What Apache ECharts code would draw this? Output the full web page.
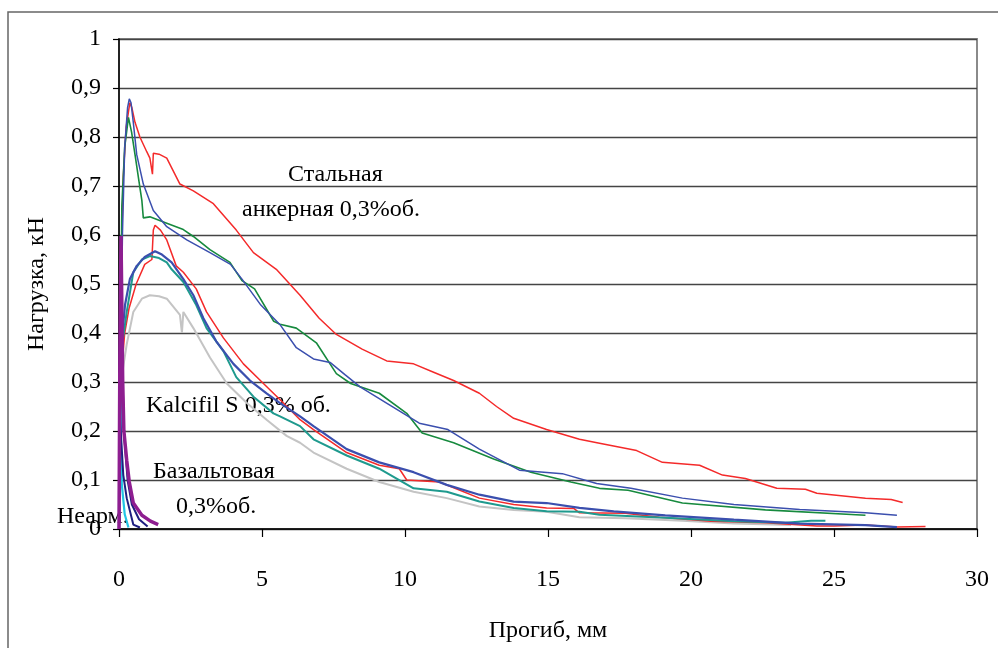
<!DOCTYPE html>
<html>
<head>
<meta charset="utf-8">
<script src="https://cdn.jsdelivr.net/npm/echarts@6/dist/echarts.min.js"></script>
<style>
html,body{margin:0;padding:0;background:#fff;}
#chart{width:998px;height:648px;}
</style>
</head>
<body>
<div id="chart"></div>
<script>
// ---- data (x: прогиб, мм; y: нагрузка, кН) ----
const xTicks = [0, 5, 10, 15, 20, 25, 30];
const yTicks = [0, 0.1, 0.2, 0.3, 0.4, 0.5, 0.6, 0.7, 0.8, 0.9, 1];

const steelRed = [[0,0],[0.03,0.27],[0.08,0.55],[0.15,0.72],[0.25,0.82],[0.38,0.87],[0.45,0.86],[0.56,0.83],[0.73,0.80],[0.97,0.77],[1.08,0.757],[1.17,0.724],[1.2,0.767],[1.4,0.765],[1.67,0.757],[2.13,0.704],[2.6,0.69],[3.3,0.664],[4.1,0.61],[4.7,0.564],[5.5,0.53],[6.33,0.477],[7.0,0.43],[7.6,0.397],[8.5,0.367],[9.36,0.343],[10.3,0.337],[11.0,0.32],[11.7,0.303],[12.6,0.277],[13.2,0.25],[13.8,0.226],[14.95,0.203],[16.1,0.183],[16.8,0.175],[18.1,0.16],[19.0,0.136],[20.3,0.13],[21.1,0.11],[21.9,0.103],[23.0,0.083],[24.0,0.081],[24.4,0.073],[26.1,0.063],[27.0,0.06],[27.4,0.054]];
const steelBlue = [[0,0],[0.05,0.3],[0.12,0.6],[0.2,0.78],[0.3,0.86],[0.36,0.878],[0.42,0.87],[0.5,0.83],[0.62,0.764],[0.85,0.704],[1.2,0.65],[1.67,0.617],[2.37,0.59],[3.18,0.564],[3.9,0.54],[4.3,0.51],[4.96,0.457],[5.63,0.417],[6.2,0.37],[6.8,0.347],[7.38,0.34],[7.9,0.315],[8.43,0.29],[9.47,0.253],[10.5,0.216],[11.5,0.203],[12.6,0.163],[14.0,0.12],[15.5,0.113],[16.7,0.093],[17.9,0.083],[19.7,0.063],[21.5,0.05],[23.8,0.04],[26.1,0.033],[27.2,0.028]];
const steelGreen = [[0,0],[0.05,0.4],[0.1,0.66],[0.2,0.78],[0.33,0.84],[0.44,0.81],[0.56,0.764],[0.73,0.697],[0.8,0.67],[0.85,0.635],[1.08,0.637],[1.67,0.624],[2.25,0.611],[2.6,0.597],[3.18,0.57],[3.88,0.544],[4.3,0.507],[4.74,0.49],[5.41,0.424],[5.63,0.418],[6.2,0.41],[6.9,0.38],[7.6,0.317],[8.1,0.297],[9.1,0.277],[10.06,0.236],[10.6,0.196],[11.7,0.176],[13.1,0.143],[14.4,0.116],[15.8,0.096],[16.8,0.083],[17.8,0.079],[19.7,0.053],[22.6,0.039],[26.1,0.028]];
const kalcRed = [[0,0],[0.05,0.2],[0.1,0.33],[0.2,0.4],[0.35,0.45],[0.6,0.5],[0.9,0.54],[1.15,0.55],[1.2,0.61],[1.26,0.62],[1.45,0.61],[1.67,0.59],[2.0,0.537],[2.25,0.524],[2.7,0.49],[3.06,0.443],[3.65,0.39],[4.35,0.337],[5.05,0.297],[5.75,0.257],[6.33,0.223],[6.8,0.203],[7.96,0.156],[9.1,0.13],[9.8,0.123],[10.06,0.1],[11.2,0.096],[12.6,0.063],[13.8,0.05],[14.95,0.043],[15.9,0.042],[16.1,0.033],[17.7,0.032],[18.9,0.024],[20.7,0.016],[22.6,0.013],[24.4,0.006],[25.0,0.006],[26.1,0.008],[27.2,0.004],[28.2,0.005]];
const kalcBlue = [[0,0],[0.05,0.25],[0.12,0.4],[0.21,0.457],[0.38,0.51],[0.62,0.537],[0.9,0.555],[1.26,0.567],[1.5,0.56],[1.84,0.544],[2.25,0.51],[2.6,0.477],[2.95,0.43],[3.4,0.383],[4.0,0.337],[4.58,0.303],[5.16,0.277],[5.63,0.257],[6.33,0.23],[6.8,0.21],[7.96,0.163],[9.1,0.136],[10.3,0.116],[11.46,0.09],[12.6,0.07],[13.8,0.056],[14.95,0.053],[16.1,0.043],[17.3,0.036],[19.1,0.028],[21.5,0.019],[23.8,0.011],[26.1,0.008],[27.2,0.004]];
const kalcTeal = [[0,0],[0.05,0.2],[0.12,0.38],[0.27,0.443],[0.5,0.524],[0.8,0.55],[1.08,0.557],[1.4,0.553],[1.67,0.544],[1.84,0.53],[2.25,0.504],[2.7,0.457],[3.06,0.41],[3.65,0.363],[4.1,0.31],[4.7,0.27],[5.4,0.236],[5.63,0.23],[6.33,0.21],[6.8,0.183],[7.96,0.15],[9.1,0.123],[10.3,0.083],[11.46,0.076],[12.6,0.056],[13.8,0.043],[14.95,0.036],[16.1,0.035],[16.8,0.029],[19.1,0.023],[21.5,0.016],[23.3,0.013],[24.2,0.017],[24.7,0.017]];
const kalcGray = [[0,0],[0.05,0.2],[0.12,0.32],[0.27,0.377],[0.5,0.443],[0.8,0.47],[1.08,0.477],[1.4,0.475],[1.67,0.47],[2.13,0.437],[2.2,0.40],[2.25,0.443],[2.6,0.41],[3.18,0.35],[3.77,0.297],[4.47,0.257],[5.16,0.223],[5.86,0.19],[6.33,0.176],[6.8,0.156],[7.96,0.123],[9.1,0.096],[10.3,0.076],[11.46,0.063],[12.6,0.046],[13.8,0.039],[14.95,0.035],[16.1,0.024],[17.7,0.022],[19.7,0.017],[21.5,0.011],[23.5,0.008]];
const basaltPurple = [[0,0],[0.03,0.35],[0.07,0.598],[0.1,0.45],[0.13,0.3],[0.17,0.2],[0.27,0.14],[0.36,0.096],[0.5,0.053],[0.8,0.028],[1.1,0.016],[1.37,0.009]];
const basaltNavy = [[0,0],[0.04,0.45],[0.08,0.56],[0.11,0.35],[0.17,0.2],[0.3,0.1],[0.45,0.05],[0.7,0.02],[1.0,0.005]];
const plainNavy = [[0,0],[0.02,0.25],[0.06,0.2],[0.15,0.11],[0.27,0.063],[0.5,0.009],[0.73,0.003]];
const plainCyan = [[0,0],[0.01,0.3],[0.05,0.25],[0.07,0.17],[0.1,0.09],[0.2,0.03],[0.33,0.003]];

const FONT = '"Liberation Serif", "Times New Roman", serif';

const chart = echarts.init(document.getElementById('chart'), null, {renderer: 'canvas'});

function ln(name, data, color, width) {
  return {
    name: name, type: 'line', data: data, showSymbol: false, symbol: 'none',
    lineStyle: {color: color, width: width}, animation: false, silent: true
  };
}

chart.setOption({
  animation: false,
  backgroundColor: '#fff',
  grid: {left: 119, top: 39, width: 858, height: 499, show: true, borderColor: '#8a8a8a', borderWidth: 2, backgroundColor: 'transparent'},
  xAxis: {
    type: 'value', min: 0, max: 30, interval: 5,
    name: 'Прогиб, мм', nameLocation: 'middle', nameGap: 90,
    nameTextStyle: {fontFamily: FONT, fontSize: 24, color: '#000'},
    axisLine: {show: true, lineStyle: {color: '#000', width: 1.5}},
    axisTick: {show: true, inside: false, length: 8, lineStyle: {color: '#000', width: 1.2}},
    axisLabel: {margin: 39, fontFamily: FONT, fontSize: 24, color: '#000', formatter: v => String(v)},
    splitLine: {show: false}
  },
  yAxis: {
    type: 'value', min: 0, max: 1, interval: 0.1,
    name: 'Нагрузка, кН', nameLocation: 'middle', nameGap: 70, nameRotate: 90,
    nameTextStyle: {fontFamily: FONT, fontSize: 24, color: '#000'},
    axisLine: {show: true, lineStyle: {color: '#000', width: 1.5}},
    axisTick: {show: true, inside: false, length: 6, lineStyle: {color: '#000', width: 1.2}},
    axisLabel: {margin: 18, fontFamily: FONT, fontSize: 24, color: '#000',
      formatter: v => (Math.round(v * 10) / 10).toString().replace('.', ',')},
    splitLine: {show: true, lineStyle: {color: '#444', width: 1.3}}
  },
  graphic: [
    {type: 'rect', shape: {x: 8, y: 12, width: 1000, height: 700}, style: {fill: 'none', stroke: '#666', lineWidth: 1.5}, silent: true, z: -10},
    {type: 'text', left: 288, top: 163, style: {text: 'Стальная', font: '24px ' + FONT, fill: '#000'}},
    {type: 'text', left: 242, top: 198, style: {text: 'анкерная 0,3%об.', font: '24px ' + FONT, fill: '#000'}},
    {type: 'text', left: 146, top: 394, style: {text: 'Kalcifil S 0,3% об.', font: '24px ' + FONT, fill: '#000'}},
    {type: 'text', left: 153, top: 460, style: {text: 'Базальтовая', font: '24px ' + FONT, fill: '#000'}},
    {type: 'text', left: 176, top: 495, style: {text: '0,3%об.', font: '24px ' + FONT, fill: '#000'}},
    {type: 'text', left: 57, top: 505, style: {text: 'Неарм.', font: '24px ' + FONT, fill: '#000'}}
  ],
  series: [
    ln('gray', kalcGray, '#c4c4c4', 2),
    ln('steelRed', steelRed, '#f42a2a', 1.5),
    ln('steelGreen', steelGreen, '#178a3e', 1.6),
    ln('steelBlue', steelBlue, '#3b4fae', 1.5),
    ln('kalcRed', kalcRed, '#f42a2a', 1.5),
    ln('kalcTeal', kalcTeal, '#1f9a8e', 2),
    ln('kalcBlue', kalcBlue, '#3b4fae', 2.2),
    ln('plainCyan', plainCyan, '#22c4e4', 2.2),
    ln('plainNavy', plainNavy, '#1e1e80', 2),
    ln('basaltNavy', basaltNavy, '#1e1e80', 2),
    ln('basaltPurple', basaltPurple, '#8e1e90', 3.5)
  ]
});
</script>
</body>
</html>
